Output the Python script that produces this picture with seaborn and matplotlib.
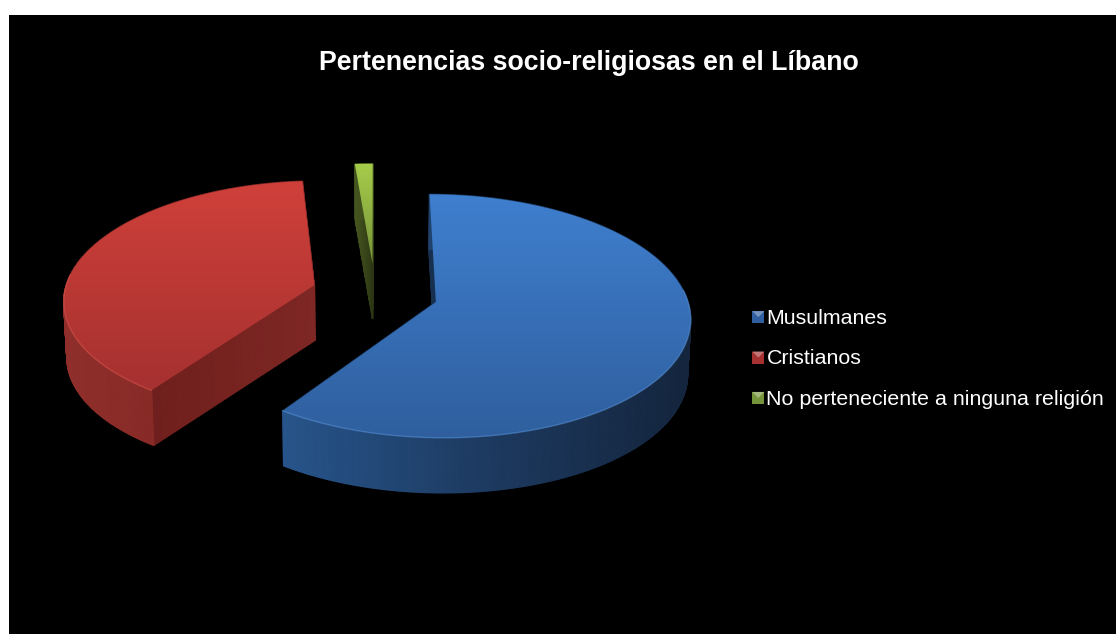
import numpy as np
import seaborn as sns
from matplotlib import pylab as plt
from matplotlib.legend_handler import HandlerBase
from matplotlib.patches import Patch, Polygon, Rectangle

categories = ["Musulmanes", "Cristianos", "No perteneciente a ninguna religión"]
shares = [59.7, 39.0, 1.3]

# colours per slice: top surface (back to front), outer wall and cut face (left to right)
top_colors = [["#3f7fcf", "#2f5f9e"], ["#d0403a", "#a53130"], ["#a6cc4a", "#76943a"]]
wall_colors = [["#27548a", "#1d3a60", "#14253d"], ["#8f2e2a", "#7a2522"], ["#46561f", "#3a4719"]]
face_colors = [["#17304f", "#17304f"], ["#671b19", "#7e2724"], ["#46561f", "#2c3613"]]
rim_colors = ["#5c97dd", "#e0564f", "#b7d860"]

# view of the tilted pie, in pixels
cx, cy = 375, 293
rx, ry = 250, 118
tilt = 0.1146
depth = 55
explode = 0.253


def project(u, v, low=0.0):
    w = 1 + tilt * v
    x = cx + rx * u / w * (1 - 0.01 * low)
    y = cy - ry * v / w + depth * low
    return x, y


class BevelHandler(HandlerBase):
    # small square legend key with a lighter wedge on top
    def create_artists(self, legend, orig_handle, xd, yd, width, height, fontsize, trans):
        color = orig_handle.get_facecolor()
        size = 12 * 72 / 100
        x0, y0 = width - size, (height - size) / 2 - 0.5
        box = Rectangle((x0, y0), size, size, facecolor=color, edgecolor="none", transform=trans)
        light = sns.blend_palette([color, "#ffffff"], 4)[1]
        wedge = Polygon([(x0, y0 + size), (x0 + size, y0 + size), (x0 + size / 2, y0 + size / 2)],
                        facecolor=light, edgecolor="none", transform=trans)
        return [box, wedge]


sns.set_theme(style="dark")
plt.rcParams["font.family"] = ["Liberation Sans", "DejaVu Sans"]

fig = plt.figure(figsize=(11.16, 6.34), dpi=100, facecolor="white")
ax = fig.add_axes([9 / 1116, 0, 1107 / 1116, 619 / 634], facecolor="black")

starts = np.cumsum([0] + shares[:-1]) * 3.6
ends = np.cumsum(shares) * 3.6

for i in [2, 1, 0]:
    a0, a1 = np.radians(starts[i]), np.radians(ends[i])
    mid = (a0 + a1) / 2
    ux, vx = explode * np.sin(mid), explode * np.cos(mid)
    angles = np.linspace(a0, a1, max(int(shares[i] * 6), 8))
    arc_u = ux + np.sin(angles)
    arc_v = vx + np.cos(angles)

    top_u = np.concatenate([[ux], arc_u])
    top_v = np.concatenate([[vx], arc_v])
    tx, ty = project(top_u, top_v)
    ax_x0, ax_x1 = tx.min(), tx.max()

    wall_map = sns.blend_palette(wall_colors[i], as_cmap=True)
    face_map = sns.blend_palette(face_colors[i], as_cmap=True)

    # cut faces
    for ang in [a0, a1]:
        t = np.linspace(0, 1, 24)
        fu = ux + t * np.sin(ang)
        fv = vx + t * np.cos(ang)
        for j in range(len(t) - 1):
            x_a, y_a = project(fu[j:j + 2], fv[j:j + 2])
            x_b, y_b = project(fu[j:j + 2], fv[j:j + 2], 1)
            pos = (x_a.mean() - ax_x0) / max(ax_x1 - ax_x0, 1)
            col = face_map(pos)
            ax.fill([x_a[0], x_a[1], x_b[1], x_b[0]], [y_a[0], y_a[1], y_b[1], y_b[0]],
                    color=col, lw=1.0, zorder=2 + i * 0.1)

    # outer wall
    for j in range(len(angles) - 1):
        x_a, y_a = project(arc_u[j:j + 2], arc_v[j:j + 2])
        x_b, y_b = project(arc_u[j:j + 2], arc_v[j:j + 2], 1)
        pos = (x_a.mean() - ax_x0) / max(ax_x1 - ax_x0, 1)
        ax.fill([x_a[0], x_a[1], x_b[1], x_b[0]], [y_a[0], y_a[1], y_b[1], y_b[0]],
                color=wall_map(pos), lw=1.0, zorder=3 + i * 0.1)

    # top surface with a vertical gradient, clipped to the slice
    outline = Polygon(np.column_stack([tx, ty]), closed=True, facecolor="none",
                      edgecolor="none", transform=ax.transData, zorder=4 + i * 0.1)
    ax.add_patch(outline)
    top_map = sns.blend_palette(top_colors[i], as_cmap=True)
    img = ax.imshow(np.linspace(0, 1, 256).reshape(-1, 1), cmap=top_map, aspect="auto",
                    extent=(tx.min(), tx.max(), ty.max(), ty.min()), zorder=4 + i * 0.1)
    img.set_clip_path(outline)

    # lighter rim along the front of the arc
    rx_line, ry_line = project(arc_u, arc_v)
    front = arc_v < vx + 0.1
    if front.sum() > 1:
        ax.plot(rx_line[front], ry_line[front], color=rim_colors[i], lw=1.0, zorder=5, alpha=0.5)

ax.set_xlim(9, 1116)
ax.set_ylim(634, 15)
ax.set_xticks([])
ax.set_yticks([])
ax.grid(False)
for spine in ax.spines.values():
    spine.set_visible(False)

ax.text(589, 62.5, "Pertenencias socio-religiosas en el Líbano", color="white",
        fontsize=19.3, fontweight="bold", ha="center", va="center")

handles = [Patch(facecolor=c[1], label=name) for c, name in zip(top_colors, categories)]
leg = ax.legend(handles=handles, handler_map={Patch: BevelHandler()}, loc="center left",
                bbox_to_anchor=(0.6657, 0.434), bbox_transform=fig.transFigure, frameon=False,
                fontsize=15.4, labelcolor="white", labelspacing=1.0, handlelength=1.0,
                handletextpad=0.1, borderpad=0, borderaxespad=0)

fig.savefig("out.png", dpi=100, facecolor="white")
